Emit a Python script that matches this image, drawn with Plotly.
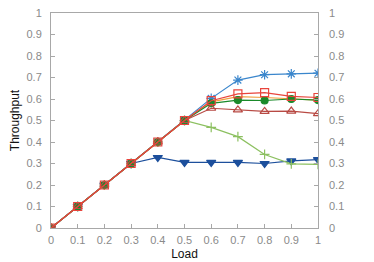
import plotly.graph_objects as go

load = [0, 0.1, 0.2, 0.3, 0.4, 0.5, 0.6, 0.7, 0.8, 0.9, 1.0]
base = [0, 0.1, 0.2, 0.3, 0.4, 0.5]

s_star = base + [0.603, 0.688, 0.713, 0.717, 0.72]
s_tridown = [0, 0.1, 0.2, 0.3, 0.328, 0.305, 0.305, 0.305, 0.300, 0.312, 0.318]
s_plus = base + [0.468, 0.425, 0.342, 0.298, 0.296]
s_triup = base + [0.557, 0.549, 0.542, 0.544, 0.532]
s_orange = base + [0.587, 0.611, 0.607, 0.600, 0.595]
s_circle = base + [0.580, 0.595, 0.593, 0.600, 0.595]
s_square = base + [0.592, 0.624, 0.630, 0.612, 0.607]

ticks = [0, 0.1, 0.2, 0.3, 0.4, 0.5, 0.6, 0.7, 0.8, 0.9, 1]
tick_text = ["0", "0.1", "0.2", "0.3", "0.4", "0.5", "0.6", "0.7", "0.8", "0.9", "1"]

fig = go.Figure()

def add(y, color, symbol, size=7, lw=1.2, fill=None):
    mk = dict(symbol=symbol, size=size, color=fill if fill else color,
              line=dict(color=color, width=1.2))
    fig.add_trace(go.Scatter(x=load, y=y, mode="lines+markers" if symbol else "lines",
                             line=dict(color=color, width=lw),
                             marker=mk, showlegend=False))

add(s_star, "#3a86cc", "asterisk-open", size=8)
add(s_tridown, "#1c4f9c", "triangle-down", size=8)
add(s_plus, "#8cc060", "cross-thin-open", size=7)
add(s_orange, "#f0a040", None)
add(s_circle, "#1a8a2a", "circle", size=7)
add(s_triup, "#b84a44", "triangle-up-open", size=8)
add(s_square, "#e8453c", "square-open", size=8)

grey = "#a8a8a8"
tf = dict(family="Liberation Sans, Arial, sans-serif", size=11, color="#8a8a8a")
titlefont = dict(family="Liberation Sans, Arial, sans-serif", size=12, color="#111")

fig.update_layout(
    width=366, height=254,
    margin=dict(l=43, r=56, t=5, b=34),
    paper_bgcolor="white", plot_bgcolor="white",
    xaxis=dict(range=[0, 1], tickvals=ticks, ticktext=tick_text, ticks="inside",
               ticklen=4, tickcolor=grey, showline=True, linecolor=grey, mirror=True,
               showgrid=False, zeroline=False, tickfont=tf, automargin=False,
               ticklabelstandoff=2, ticklabeloverflow="allow",
               title=dict(text="Load", standoff=4, font=titlefont)),
    yaxis=dict(range=[0, 1], tickvals=ticks, ticktext=tick_text, ticks="inside",
               ticklen=4, tickcolor=grey, showline=True, linecolor=grey, mirror=True,
               showgrid=False, zeroline=False, tickfont=tf, automargin=False,
               ticklabelstandoff=6, ticklabeloverflow="allow",
               title=dict(text="Throughput", standoff=10, font=titlefont)),
    yaxis2=dict(range=[0, 1], tickvals=ticks, ticktext=tick_text, ticks="inside",
                ticklen=4, tickcolor=grey, overlaying="y", side="right", showline=False,
                showgrid=False, zeroline=False, tickfont=tf, matches="y",
                automargin=False, ticklabelstandoff=10, ticklabeloverflow="allow"),
)
fig.add_trace(go.Scatter(x=[None], y=[None], yaxis="y2", showlegend=False, hoverinfo="skip"))

fig.write_html("out.html")
